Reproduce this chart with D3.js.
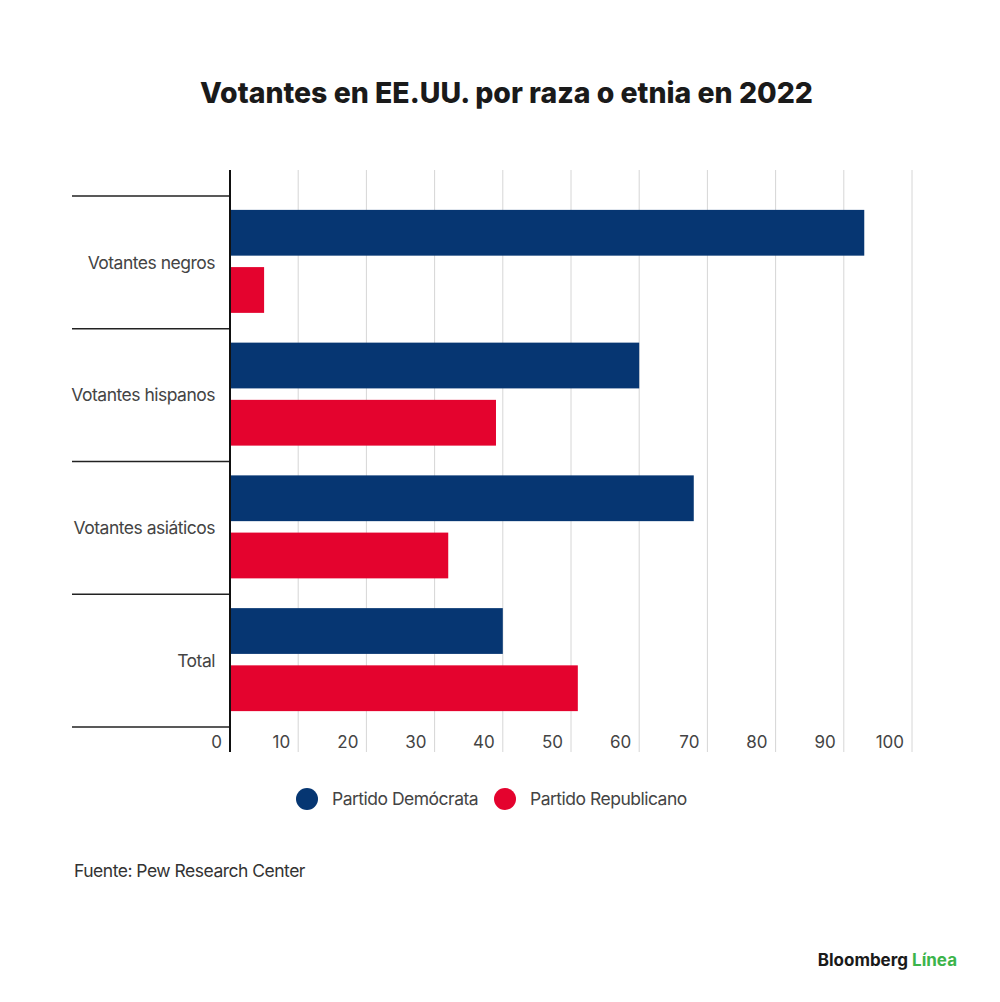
<!DOCTYPE html>
<html>
<head>
<meta charset="utf-8">
<script src="https://cdn.jsdelivr.net/npm/d3@7"></script>
<style>
  body { margin: 0; background: #fff; }
  text { font-family: Inter, "Noto Sans", sans-serif; }
</style>
</head>
<body>
<div id="chart"></div>
<script>
// Datos (porcentaje de votos, 2022)
const categories = ["Votantes negros", "Votantes hispanos", "Votantes asiáticos", "Total"];
const democrata = [93, 60, 68, 40];
const republicano = [5, 39, 32, 51];
const series = ["Partido Demócrata", "Partido Republicano"];
const tickValues = [0, 10, 20, 30, 40, 50, 60, 70, 80, 90, 100];

const colors = ["#063672", "#e4032e"];

const width = 1000;
const height = 1002;

const svg = d3.select("#chart")
  .append("svg")
  .attr("width", width)
  .attr("height", height);

// Titulo
svg.append("text")
  .attr("x", 200)
  .attr("y", 103)
  .attr("font-size", 29)
  .attr("font-weight", 800)
  .attr("fill", "#1a1a1a")
  .attr("textLength", 613)
  .attr("lengthAdjust", "spacingAndGlyphs")
  .text("Votantes en EE.UU. por raza o etnia en 2022");

// Escalas
const x = d3.scaleLinear().domain([0, 100]).range([230, 912]);
const y = d3.scaleBand().domain(categories).range([196, 727]);
const inner = d3.scaleBand().domain(series).range([0, y.bandwidth()])
  .paddingInner(0.2).paddingOuter(0.26);

// Lineas de cuadricula
svg.append("g")
  .selectAll("line")
  .data(tickValues.slice(1))
  .join("line")
  .attr("x1", d => x(d))
  .attr("x2", d => x(d))
  .attr("y1", 170)
  .attr("y2", 752)
  .attr("stroke", "#d6d6d6")
  .attr("stroke-width", 1);

// Barras
const rows = categories.map((c, i) => ({ cat: c, values: [democrata[i], republicano[i]] }));

const group = svg.append("g")
  .selectAll("g")
  .data(rows)
  .join("g")
  .attr("transform", d => `translate(0,${y(d.cat)})`);

group.selectAll("rect")
  .data(d => d.values.map((v, j) => ({ serie: series[j], value: v, j })))
  .join("rect")
  .attr("x", x(0))
  .attr("y", d => inner(d.serie) - 1)
  .attr("width", d => x(d.value) - x(0))
  .attr("height", inner.bandwidth())
  .attr("fill", d => colors[d.j]);

// Separadores de categorias
const bounds = categories.map(c => y(c)).concat([y.range()[1]]);
svg.append("g")
  .selectAll("line")
  .data(bounds)
  .join("line")
  .attr("x1", 72)
  .attr("x2", x(0))
  .attr("y1", d => d)
  .attr("y2", d => d)
  .attr("stroke", "#222")
  .attr("stroke-width", 1.5);

// Etiquetas de categorias
svg.append("g")
  .selectAll("text")
  .data(categories)
  .join("text")
  .attr("x", 215)
  .attr("y", d => y(d) + y.bandwidth() / 2)
  .attr("dy", "0.35em")
  .attr("text-anchor", "end")
  .attr("font-size", 17.5)
  .attr("fill", "#444")
  .attr("letter-spacing", -0.5)
  .text(d => d);

// Eje vertical
svg.append("line")
  .attr("x1", x(0))
  .attr("x2", x(0))
  .attr("y1", 170)
  .attr("y2", 752)
  .attr("stroke", "#111")
  .attr("stroke-width", 2);

// Etiquetas del eje x
svg.append("g")
  .selectAll("text")
  .data(tickValues)
  .join("text")
  .attr("x", d => x(d) - 8)
  .attr("y", 748)
  .attr("text-anchor", "end")
  .attr("font-size", 17)
  .attr("fill", "#444")
  .text(d => d);

// Leyenda
const legendX = [307, 505];
const legend = svg.append("g")
  .selectAll("g")
  .data(series)
  .join("g")
  .attr("transform", (d, i) => `translate(${legendX[i]},799)`);

legend.append("circle")
  .attr("r", 11)
  .attr("fill", (d, i) => colors[i]);

legend.append("text")
  .attr("x", 25)
  .attr("dy", "0.35em")
  .attr("font-size", 17.5)
  .attr("fill", "#444")
  .attr("letter-spacing", -0.5)
  .text(d => d);

// Fuente
svg.append("text")
  .attr("x", 74)
  .attr("y", 877)
  .attr("font-size", 17.5)
  .attr("fill", "#333")
  .attr("letter-spacing", -0.5)
  .text("Fuente: Pew Research Center");

// Logo
const logo = svg.append("text")
  .attr("x", 957)
  .attr("y", 966)
  .attr("text-anchor", "end")
  .attr("font-size", 17)
  .attr("font-weight", 700);
logo.append("tspan").attr("fill", "#1a1a1a").text("Bloomberg ");
logo.append("tspan").attr("fill", "#3cb44b").text("Línea");
</script>
</body>
</html>
